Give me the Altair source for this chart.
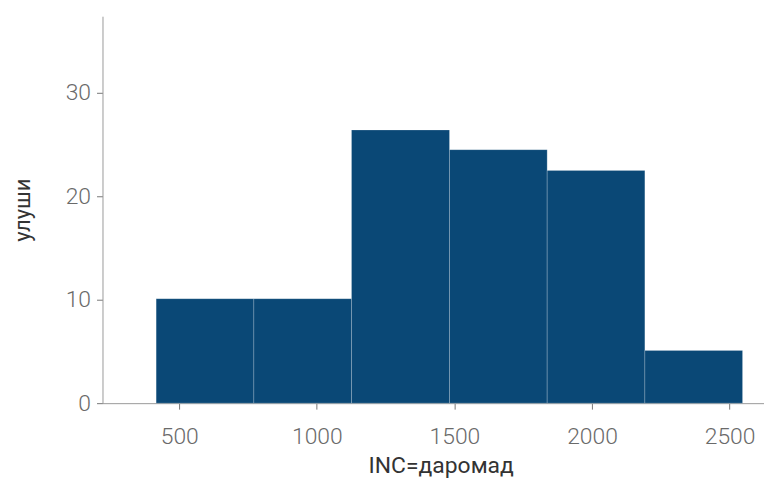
import altair as alt
import pandas as pd

# Histogram bins of income (INC) and their shares
bin_start = [416, 771, 1126, 1482, 1837, 2192]
bin_end = [771, 1126, 1482, 1837, 2192, 2547]
shares = [10.1, 10.1, 26.4, 24.5, 22.5, 5.1]

x_ticks = [500, 1000, 1500, 2000, 2500]
y_ticks = [0, 10, 20, 30]

df = pd.DataFrame({"start": bin_start, "end": bin_end, "share": shares})

bars = alt.Chart(df).mark_bar(
    color="#0a4876", stroke="#ffffff", strokeOpacity=0.2, strokeWidth=1
).encode(
    x=alt.X(
        "start:Q",
        scale=alt.Scale(domain=[221, 2625], nice=False, zero=False),
        axis=alt.Axis(
            values=x_ticks,
            format="d",
            title="INC=даромад",
            grid=False,
            labelFont="Roboto",
            labelFontWeight=300,
            labelFontSize=23,
            labelColor="#6a6a6a",
            labelPadding=17,
            tickColor="#777777",
            tickSize=6,
            domainColor="#999999",
            titleFont="Roboto",
            titleFontWeight=400,
            titleFontSize=23,
            titleColor="#333333",
            titleX=340,
            titleY=63,
            titleBaseline="middle",
            titleAlign="center",
        ),
    ),
    x2="end:Q",
    y=alt.Y(
        "share:Q",
        scale=alt.Scale(domain=[0, 37.4], nice=False),
        axis=alt.Axis(
            values=y_ticks,
            title="улуши",
            grid=False,
            labelFont="Roboto",
            labelFontWeight=300,
            labelFontSize=23,
            labelColor="#6a6a6a",
            labelPadding=6,
            tickColor="#777777",
            tickSize=6,
            domainColor="#999999",
            titleFont="Roboto",
            titleFontWeight=400,
            titleFontSize=22,
            titleColor="#333333",
            titleX=-80,
            titleBaseline="middle",
            titleAngle=270,
        ),
    ),
    y2=alt.Y2(datum=0),
)

chart = bars.properties(
    width=665,
    height=389,
    autosize=alt.AutoSizeParams(type="none"),
    padding={"left": 95, "top": 7, "right": 0, "bottom": 80},
).configure_view(stroke=None)

chart.save("out.html", embed_options={"renderer": "svg", "actions": False})
